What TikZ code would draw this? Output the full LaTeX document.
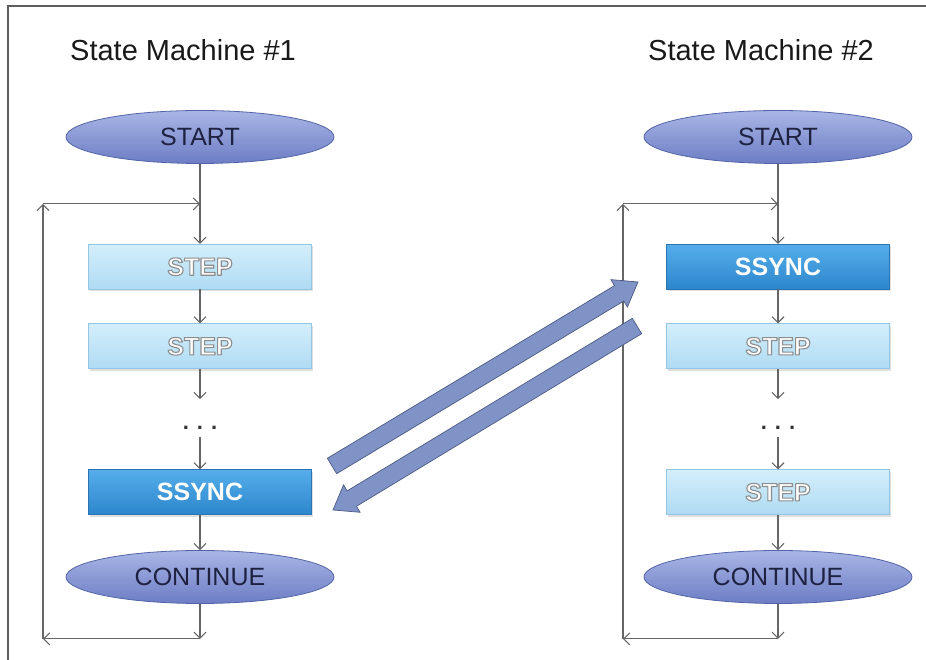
\documentclass[tikz,border=0pt]{standalone}
\usepackage{fontspec}
\setmainfont{Liberation Sans}
\usepackage{xcolor}
\usetikzlibrary{arrows.meta,positioning,shapes.geometric,calc,shadows}
\definecolor{smovaltop}{HTML}{A9B6E6}
\definecolor{smovalbot}{HTML}{6C7DC4}
\definecolor{smovaledge}{HTML}{5464A8}
\definecolor{smtext}{HTML}{1E2140}
\definecolor{smsteptop}{HTML}{D3EEFB}
\definecolor{smstepbot}{HTML}{AFDBF3}
\definecolor{smstepedge}{HTML}{94C6E4}
\definecolor{smsynctop}{HTML}{55AEEA}
\definecolor{smsyncbot}{HTML}{2C86CC}
\definecolor{smsyncedge}{HTML}{2A74B2}
\definecolor{smline}{HTML}{666666}
\definecolor{smbig}{HTML}{7F93C6}
\definecolor{smbigedge}{HTML}{4C5A82}
\definecolor{smframe}{HTML}{5E5E5E}
% white letters with a grey rim
\newcommand\glowtext[1]{\special{pdf:literal direct 0.55 G 1.1 w 1 j 2 Tr}#1\special{pdf:literal direct 0 Tr}}

\begin{document}
\begin{tikzpicture}[
        x=1pt, y=1pt,
        node distance=34pt,
        stateoval/.style={
            ellipse,
            draw=smovaledge,
            line width=0.8pt,
            top color=smovaltop,
            bottom color=smovalbot,
            minimum width=268pt,
            minimum height=53pt,
            inner sep=0pt,
            text=smtext,
            font=\fontsize{25}{30}\selectfont
        },
        stepbox/.style={
            rectangle,
            draw=smstepedge,
            line width=0.6pt,
            top color=smsteptop,
            bottom color=smstepbot,
            minimum width=223pt,
            minimum height=45pt,
            inner sep=0pt,
            text=white,
            font=\bfseries\fontsize{25}{30}\selectfont,
            drop shadow={shadow xshift=1.5pt,shadow yshift=-2pt,opacity=0.25}
        },
        syncbox/.style={stepbox,
            draw=smsyncedge,
            top color=smsynctop,
            bottom color=smsyncbot
        },
        gap/.style={minimum height=38pt, inner sep=0pt, font=\bfseries\fontsize{22}{26}\selectfont, text=black!80},
        title/.style={anchor=west, inner sep=0pt, font=\fontsize{29}{34}\selectfont, text=black!90},
        line/.style={-{Straight Barb[length=6pt,width=12pt]}, line width=1.1pt, smline},
        bigarrow/.style={fill=smbig, draw=smbigedge, line width=0.7pt}
    ]
    \useasboundingbox (0,0) rectangle (926,660);
    \draw[line width=2pt, smframe] (8,0) -- (8,654) -- (926,654);

    \node[title] (titleA) at (70,610) {State Machine \#1};
    \node[title] (titleB) at (648,610) {State Machine \#2};

    % first machine
    \node[stateoval] (startA) at (200,523) {START};
    \node[stepbox, below=80pt of startA] (stepA1) {\glowtext{STEP}};
    \node[stepbox, below=of stepA1] (stepA2) {\glowtext{STEP}};
    \node[gap, below=30pt of stepA2] (dotsA) {\raisebox{-11pt}[0pt][0pt]{.\hspace{8pt}.\hspace{8pt}.}};
    \node[syncbox, below=32pt of dotsA] (ssyncA) {SSYNC};
    \node[stateoval, below=35pt of ssyncA] (contA) {CONTINUE};
    \coordinate[below=35pt of contA] (endA);
    \coordinate (joinA) at ($(startA.south)!0.5!(stepA1.north)$);
    \coordinate (cornerTLA) at ($(joinA)+(-157,0)$);
    \coordinate (cornerBLA) at ($(endA)+(-157,0)$);

    % second machine
    \node[stateoval] (startB) at (778,523) {START};
    \node[syncbox, below=80pt of startB] (ssyncB) {SSYNC};
    \node[stepbox, below=of ssyncB] (stepB1) {\glowtext{STEP}};
    \node[gap, below=30pt of stepB1] (dotsB) {\raisebox{-11pt}[0pt][0pt]{.\hspace{8pt}.\hspace{8pt}.}};
    \node[stepbox, below=32pt of dotsB] (stepB2) {\glowtext{STEP}};
    \node[stateoval, below=35pt of stepB2] (contB) {CONTINUE};
    \coordinate[below=35pt of contB] (endB);
    \coordinate (joinB) at ($(startB.south)!0.5!(ssyncB.north)$);
    \coordinate (cornerTLB) at ($(joinB)+(-155,0)$);
    \coordinate (cornerBLB) at ($(endB)+(-155,0)$);

    \draw[line] (startA) -- (stepA1);
    \draw[line] (stepA1) -- (stepA2);
    \draw[line] (stepA2) -- (dotsA);
    \draw[line] (dotsA) -- (ssyncA);
    \draw[line] (ssyncA) -- (contA);
    \draw[line] (contA) -- (endA);
    \draw[line] (endA) -- (cornerBLA);
    \draw[line] (cornerBLA) -- (cornerTLA);
    \draw[line] (cornerTLA) -- (joinA);

    \draw[line] (startB) -- (ssyncB);
    \draw[line] (ssyncB) -- (stepB1);
    \draw[line] (stepB1) -- (dotsB);
    \draw[line] (dotsB) -- (stepB2);
    \draw[line] (stepB2) -- (contB);
    \draw[line] (contB) -- (endB);
    \draw[line] (endB) -- (cornerBLB);
    \draw[line] (cornerBLB) -- (cornerTLB);
    \draw[line] (cornerTLB) -- (joinB);

    % sync hand-over arrows
    \coordinate (upF) at (332,194);
    \coordinate (upT) at (638,378);
    \coordinate (upN) at ($(upT)!22pt!(upF)$);
    \coordinate (dnF) at (637,334);
    \coordinate (dnT) at (333,150);
    \coordinate (dnN) at ($(dnT)!22pt!(dnF)$);
    \draw[bigarrow] ($(upF)!9pt!90:(upT)$) -- ($(upN)!9pt!90:(upT)$) -- ($(upN)!16pt!90:(upT)$) -- (upT)
        -- ($(upN)!16pt!-90:(upT)$) -- ($(upN)!9pt!-90:(upT)$) -- ($(upF)!9pt!-90:(upT)$) -- cycle;
    \draw[bigarrow] ($(dnF)!9pt!90:(dnT)$) -- ($(dnN)!9pt!90:(dnT)$) -- ($(dnN)!16pt!90:(dnT)$) -- (dnT)
        -- ($(dnN)!16pt!-90:(dnT)$) -- ($(dnN)!9pt!-90:(dnT)$) -- ($(dnF)!9pt!-90:(dnT)$) -- cycle;
\end{tikzpicture}
\end{document}
